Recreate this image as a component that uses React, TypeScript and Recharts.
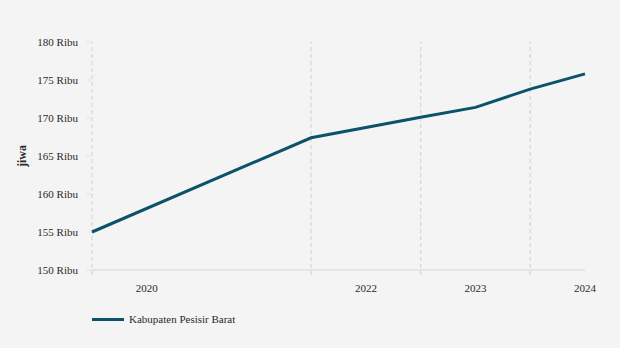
import React from 'react';
import { LineChart, Line, XAxis, YAxis, ReferenceLine, Label } from 'recharts';

const positions = [0, 4, 6, 7, 8, 9];
const population = [155.0, 167.4, 170.1, 171.4, 173.8, 175.8];
const labelPositions = [1, 5, 7, 9];
const yearLabels = ['2020', '2022', '2023', '2024'];
const gridPositions = [0, 4, 6, 8];
const yTicks = [150, 155, 160, 165, 170, 175, 180];
const seriesName = 'Kabupaten Pesisir Barat';

const data = positions.map((p, i) => ({ pos: p, value: population[i] }));

const font = '"Liberation Serif", serif';
const lineColor = '#0b5369';
const textColor = '#2a2a2a';

const App = () => {
  return (
    <div style={{ width: 620, height: 348, position: 'absolute', left: 0, top: 0, background: '#f4f4f4', fontFamily: font }}>
      <LineChart width={620} height={348} data={data} margin={{ top: 42, right: 35, bottom: 48, left: 8 }}>
        <YAxis
          domain={[150, 180]}
          ticks={yTicks}
          width={84}
          axisLine={false}
          tickLine={{ stroke: '#e4e4e4' }}
          tickSize={6}
          tick={{ fontSize: 11, fill: textColor, fontFamily: font, dx: -6 }}
          tickFormatter={(v: number) => `${v} Ribu`}
        >
          <Label
            value="jiwa"
            angle={-90}
            position="insideLeft"
            offset={14}
            textAnchor="middle"
            style={{ fontSize: 12, fontWeight: 'bold', fill: textColor, fontFamily: font, textAnchor: 'middle' }}
          />
        </YAxis>
        <XAxis
          dataKey="pos"
          type="number"
          domain={[0, 9]}
          ticks={labelPositions}
          height={30}
          tickFormatter={(v: number) => yearLabels[labelPositions.indexOf(v)] ?? ''}
          axisLine={{ stroke: '#e4e4e4', strokeWidth: 2 }}
          tickLine={false}
          tickMargin={8}
          tick={{ fontSize: 11, fill: textColor, fontFamily: font }}
        />
        {gridPositions.map((g) => (
          <ReferenceLine
            key={g}
            segment={[{ x: g, y: 149.35 }, { x: g, y: 180 }]}
            ifOverflow="visible"
            stroke="#dcdcdc"
            strokeDasharray="4 3"
            strokeWidth={1.5}
          />
        ))}
        <Line
          type="linear"
          dataKey="value"
          name={seriesName}
          stroke={lineColor}
          strokeWidth={3}
          dot={false}
          isAnimationActive={false}
        />
      </LineChart>
      <div style={{ position: 'absolute', left: 92, top: 313, display: 'flex', alignItems: 'center', fontSize: 11, color: textColor }}>
        <span style={{ display: 'inline-block', width: 32, height: 3, background: lineColor, marginRight: 5 }} />
        {seriesName}
      </div>
    </div>
  );
};

export default App;
